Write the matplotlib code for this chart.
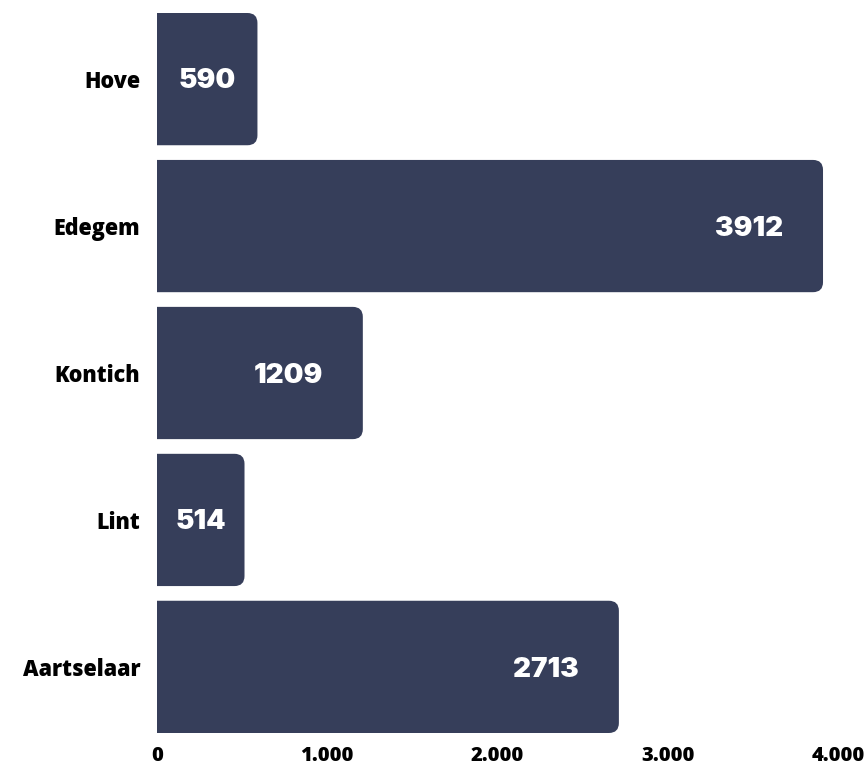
import matplotlib

matplotlib.use("Agg")
import matplotlib.pyplot as plt  # noqa: E402
from matplotlib.patches import FancyBboxPatch  # noqa: E402
from matplotlib.ticker import FuncFormatter  # noqa: E402
import matplotlib.transforms as mtransforms  # noqa: E402

categories = ["Hove", "Edegem", "Kontich", "Lint", "Aartselaar"]
values = [590, 3912, 1209, 514, 2713]
x_ticks = [0, 1000, 2000, 3000, 4000]

BAR_COLOR = "#363e5a"

fig = plt.figure(figsize=(8.67, 7.67), dpi=100)
ax = fig.add_axes([157 / 867, 34 / 767, 681 / 867, 720 / 767])

ypos = list(range(len(categories)))
bars = ax.barh(ypos, values, height=0.9, color=BAR_COLOR)
ax.set_xlim(0, 4000)
ax.set_ylim(len(categories) - 0.55, -0.45)

# rounded right corners: replace each bar with a rounded box that starts left of 0
rx = 10 * 4000 / 681
ry = 10 / 147
for bar in bars:
    x, y = bar.get_x(), bar.get_y()
    w, h = bar.get_width(), bar.get_height()
    box = FancyBboxPatch((x - 2 * rx, y), w + 2 * rx, h,
                         boxstyle=f"round,pad=0,rounding_size={rx}",
                         mutation_aspect=ry / rx,
                         facecolor=BAR_COLOR, edgecolor="none")
    ax.add_patch(box)
    bar.set_visible(False)

# value labels: centred in short bars, right-aligned near the end of long ones
for yp, v in zip(ypos, values):
    if v < 1000:
        off = mtransforms.offset_copy(ax.transData, fig=fig, x=0, y=-2, units="dots")
        ax.text(v / 2, yp, str(v), ha="center", va="center", color="white",
                fontsize=20, fontweight="black", family="Inter", transform=off)
    else:
        off = mtransforms.offset_copy(ax.transData, fig=fig, x=-40, y=-3, units="dots")
        ax.text(v, yp, str(v), ha="right", va="center", color="white",
                fontsize=20, fontweight="black", family="Inter", transform=off)

ax.set_yticks(ypos)
ax.set_yticklabels(categories, fontsize=15.5, fontweight="heavy", family="Open Sans")
ax.set_xticks(x_ticks)
ax.xaxis.set_major_formatter(FuncFormatter(lambda v, p: f"{int(v):,}".replace(",", ".")))
for lab in ax.get_xticklabels():
    lab.set_fontsize(14.5)
    lab.set_fontweight("heavy")
    lab.set_family("Open Sans")
ax.tick_params(axis="both", length=0)
ax.tick_params(axis="y", pad=12)
ax.tick_params(axis="x", pad=9.5)
for s in ax.spines.values():
    s.set_visible(False)

fig.savefig("out.png", dpi=100)
